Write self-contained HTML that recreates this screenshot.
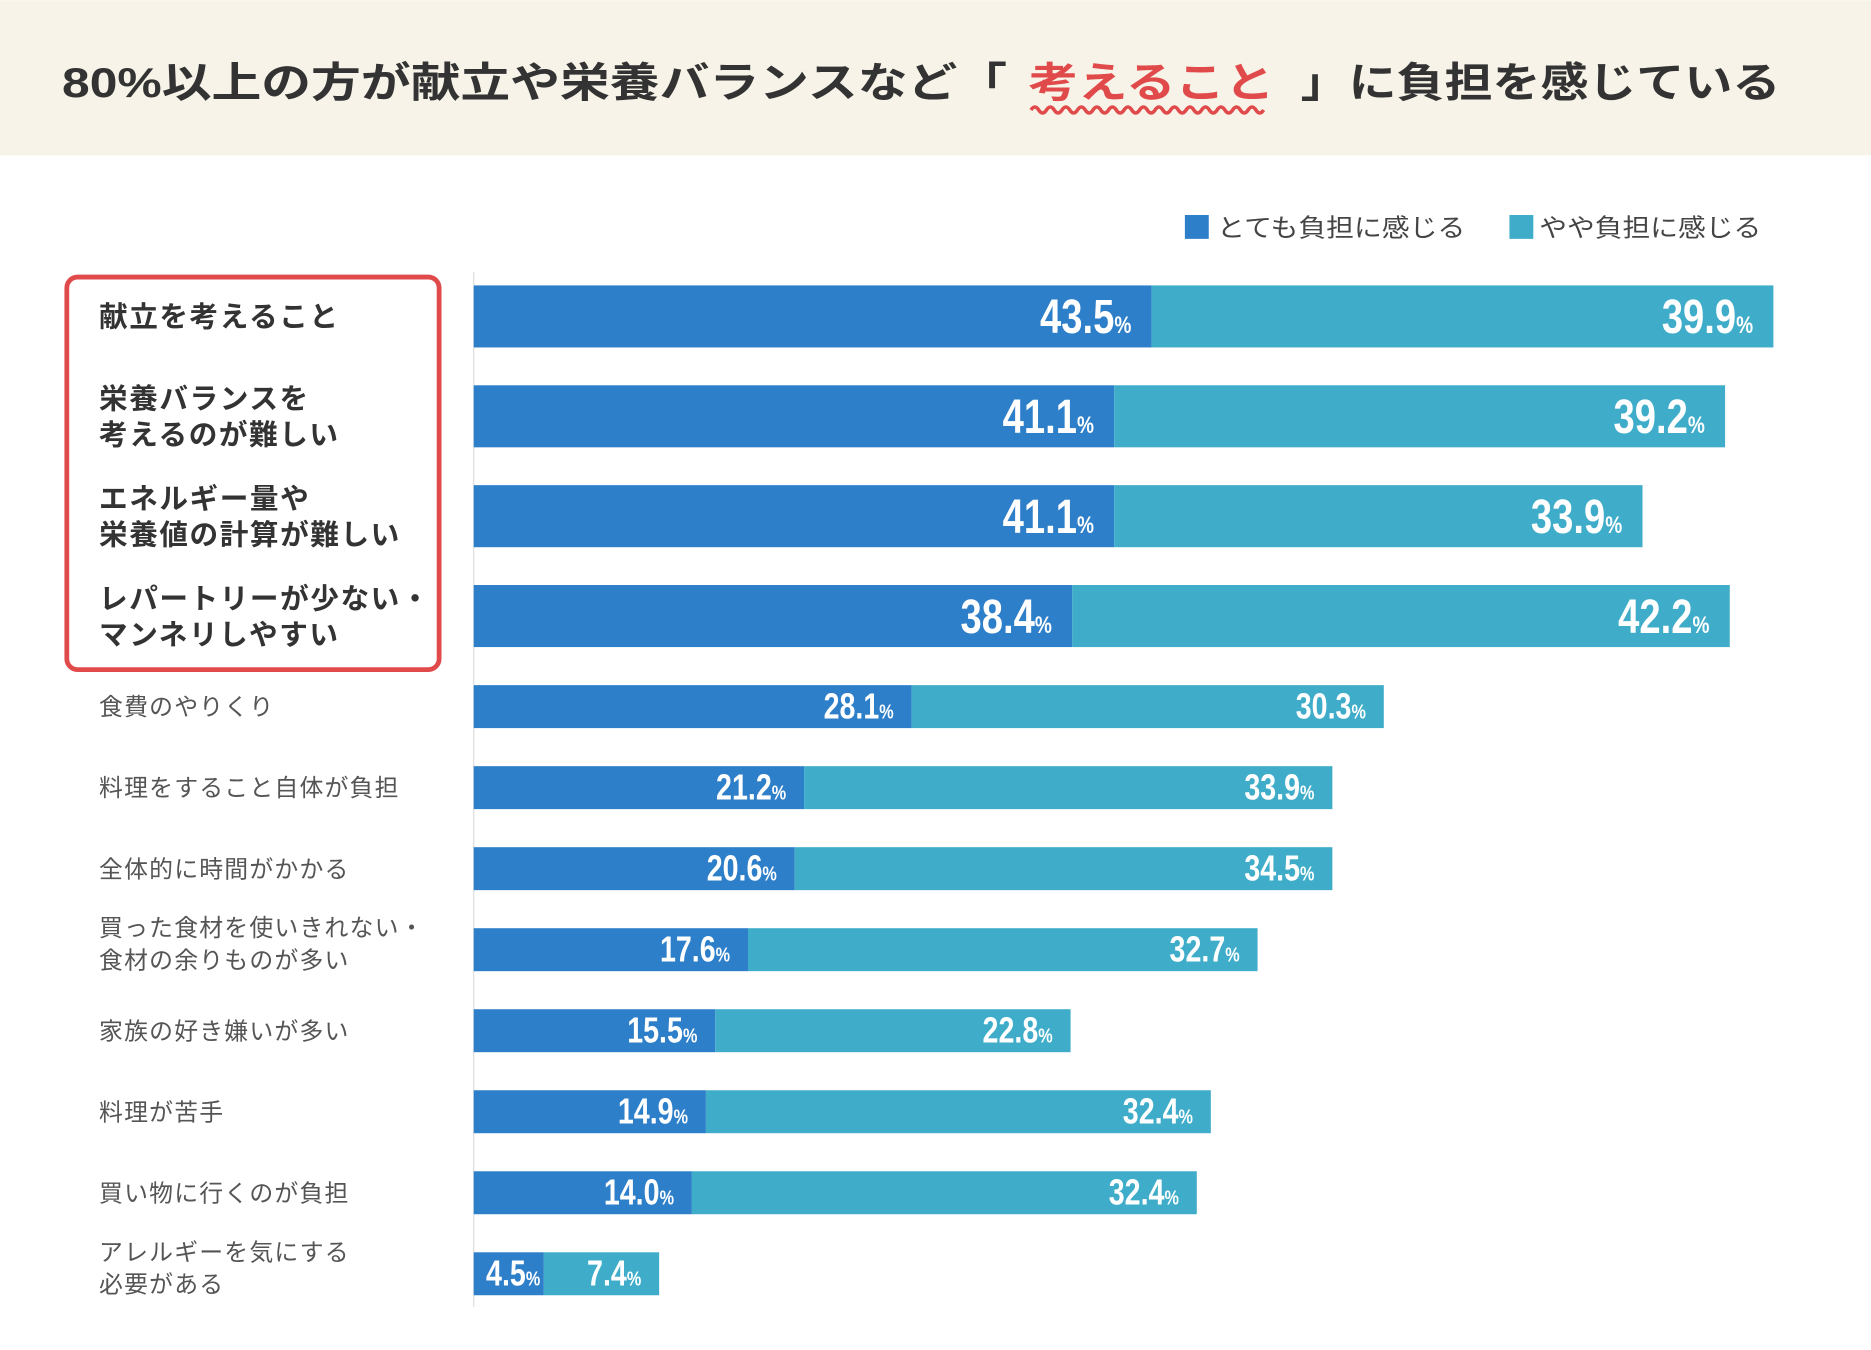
<!DOCTYPE html>
<html><head><meta charset="utf-8"><style>
html,body{margin:0;padding:0;background:#fff;}
svg{display:block;font-family:"Liberation Sans","Noto Sans CJK JP",sans-serif;}
</style></head><body>
<svg id="chart" width="1871" height="1350" viewBox="0 0 1568 1131" xmlns="http://www.w3.org/2000/svg">
<rect x="0" y="0" width="1568" height="130" fill="#f7f3e8"/>
<g font-weight="bold" font-size="35" fill="#333">
<text x="52" y="81" textLength="792" lengthAdjust="spacingAndGlyphs">80%以上の方が献立や栄養バランスなど「</text>
<text x="862" y="81" textLength="206" lengthAdjust="spacingAndGlyphs" fill="#e04a4a">考えること</text>
<text x="1090" y="81" textLength="402" lengthAdjust="spacingAndGlyphs">」に負担を感じている</text>
</g>
<path id="wave" fill="none" stroke="#e04a4a" stroke-width="3"/>
<g font-size="21" fill="#444">
<rect x="993" y="180" width="20" height="20" fill="#2e7fc9"/>
<text x="1020" y="198" textLength="208" lengthAdjust="spacingAndGlyphs">とても負担に感じる</text>
<rect x="1265" y="180" width="20" height="20" fill="#3fadc9"/>
<text x="1290" y="198" textLength="186" lengthAdjust="spacingAndGlyphs">やや負担に感じる</text>
</g>
<line x1="397" y1="228" x2="397" y2="1095" stroke="#ddd" stroke-width="1"/>
<rect x="56" y="232" width="312" height="329" rx="9" fill="none" stroke="#e04a4a" stroke-width="4"/>
<g id="bars"></g>
<g id="labels"></g>
</svg>
<script>
const categories = [
 ["献立を考えること"],
 ["栄養バランスを","考えるのが難しい"],
 ["エネルギー量や","栄養値の計算が難しい"],
 ["レパートリーが少ない・","マンネリしやすい"],
 ["食費のやりくり"],
 ["料理をすること自体が負担"],
 ["全体的に時間がかかる"],
 ["買った食材を使いきれない・","食材の余りものが多い"],
 ["家族の好き嫌いが多い"],
 ["料理が苦手"],
 ["買い物に行くのが負担"],
 ["アレルギーを気にする","必要がある"]
];
const veryValues = [43.5,41.1,41.1,38.4,28.1,21.2,20.6,17.6,15.5,14.9,14.0,4.5];
const somewhatValues = [39.9,39.2,33.9,42.2,30.3,33.9,34.5,32.7,22.8,32.4,32.4,7.4];
const NS="http://www.w3.org/2000/svg";
const x0=397, k=13.06;
function xScale(v){return x0+v*k;}
function rowTop(i){return i<4 ? 239+i*83.7 : 574+(i-4)*67.9;}
function rowH(i){return i<4?52:36;}
const bars=document.getElementById('bars'), labels=document.getElementById('labels');
function mk(tag,attrs,parent){const e=document.createElementNS(NS,tag);for(const a in attrs)e.setAttribute(a,attrs[a]);parent.appendChild(e);return e;}
function valueText(v,xEnd,cy,big,name){
  const t=mk('text',{x:0,y:cy+(big?14:10),'text-anchor':'end',fill:'#fff','font-weight':'bold','font-size':big?40:30,transform:'translate('+xEnd+',0) scale(0.8,1)'},labels);
  
  
  const s1=document.createElementNS(NS,'tspan');s1.textContent=v.toFixed(1);t.appendChild(s1);
  const s2=document.createElementNS(NS,'tspan');s2.setAttribute('font-size',big?20:17);s2.textContent='%';t.appendChild(s2);
}
categories.forEach((c,i)=>{
  const y=rowTop(i), h=rowH(i), cy=y+h/2, big=i<4;
  const xa=xScale(veryValues[i]), xb=xScale(veryValues[i]+somewhatValues[i]);
  const r1=mk('rect',{x:x0,y:y,width:xa-x0,height:h,fill:'#2e7fc9'},bars);
  
  
  const r2=mk('rect',{x:xa,y:y,width:xb-xa,height:h,fill:'#3fadc9'},bars);
  
  
  valueText(veryValues[i],xa-(big?17:(veryValues[i]<6?3:15)),cy,big,'value-very-'+(i+1));
  valueText(somewhatValues[i],xb-(big?17:15),cy,big,'value-somewhat-'+(i+1));
  const lh=big?30:27, fs=big?24:20;
  const off=c.length===1?0:(i===7||i===11?-5:0);
  c.forEach((line,j)=>{
    const ly=cy+off+(j-(c.length-1)/2)*lh+fs*0.36;
    const t=mk('text',{x:83,y:ly,'font-size':fs,fill:big?'#333':'#555','font-weight':big?'bold':'normal','letter-spacing':big?1.3:1},labels);
    
    
    t.textContent=line;
  });
});
let d='M864 92';
for(let x=864;x<1058;x+=13){d+=' q3.25 -5 6.5 0 q3.25 5 6.5 0';}
document.getElementById('wave').setAttribute('d',d);
</script>
</body></html>
